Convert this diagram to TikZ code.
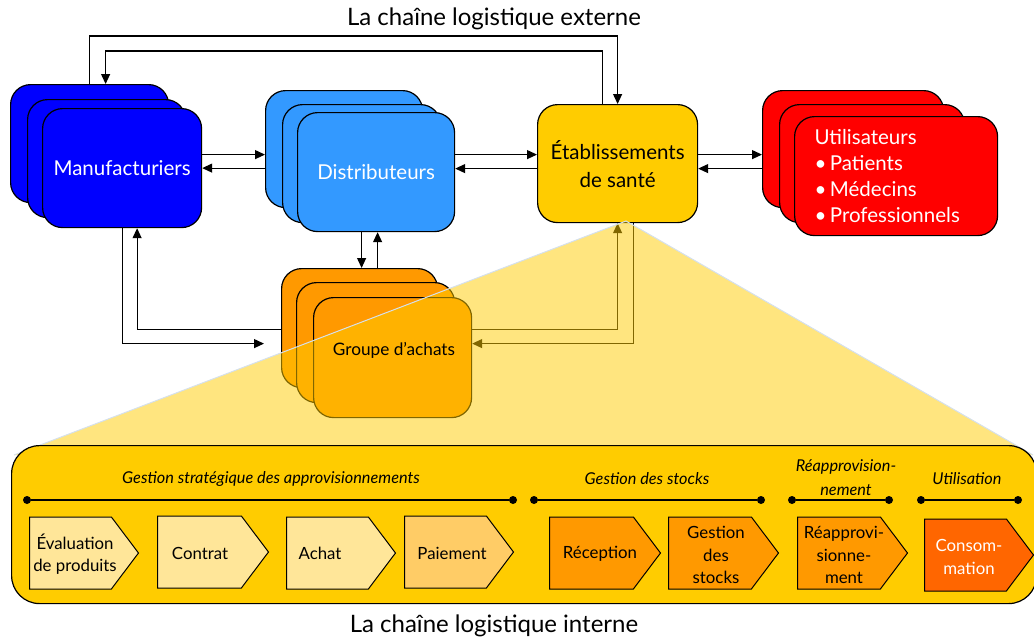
\documentclass[tikz,border=0pt]{standalone}
\usepackage{fontspec}
\setmainfont{Lato}
\usetikzlibrary{arrows.meta,shapes.symbols,calc}
\definecolor{manufblue}{HTML}{0000FF}
\definecolor{distblue}{HTML}{3399FF}
\definecolor{gold}{HTML}{FFCC00}
\definecolor{userred}{HTML}{FF0000}
\definecolor{buyorange}{HTML}{FF9900}
\definecolor{paleyellow}{HTML}{FFE699}
\definecolor{paleorange}{HTML}{FFCC66}
\definecolor{deeporange}{HTML}{FF6600}
\definecolor{fanedge}{HTML}{D5E0EC}

\begin{document}
\begin{tikzpicture}[x=1pt,y=1pt,
  box/.style={draw=black, line width=1.2pt, rounded corners=20pt, anchor=north west, inner sep=0pt},
  arr/.style={line width=1.2pt, -{Triangle[length=10pt,width=9pt]}},
  bigtxt/.style={font=\fontsize{20.5}{28}\selectfont},
  chev/.style={shape=signal, signal to=east, signal pointer angle=106, draw=black, line width=1pt, minimum height=72pt, inner sep=0pt, anchor=west},
  chevtxt/.style={font=\fontsize{16.8}{22.5}\selectfont, align=center},
  sect/.style={font=\fontsize{16.3}{24}\selectfont\itshape, align=center},
  dot/.style={circle, fill=black, inner sep=0pt, minimum size=8pt},
  secline/.style={line width=1.2pt},
]
\useasboundingbox (0,0) rectangle (1034,-643);

% external chain title
\node[font=\fontsize{24}{28}\selectfont] (extTitle) at (494,-19) {La chaîne logistique externe};

% manufacturers (stacked)
\node[box, fill=manufblue, minimum width=158pt, minimum height=118pt] (m3) at (10,-84) {};
\node[box, fill=manufblue, minimum width=158pt, minimum height=118pt] (m2) at (27,-99) {};
\node[box, fill=manufblue, minimum width=159pt, minimum height=119pt, bigtxt, text=white] (m1) at (42,-108) {Manufacturiers};

% distributors (stacked)
\node[box, fill=distblue, minimum width=157pt, minimum height=117pt] (d3) at (265,-90) {};
\node[box, fill=distblue, minimum width=158pt, minimum height=118pt] (d2) at (282,-104) {};
\node[box, fill=distblue, minimum width=157pt, minimum height=119pt, bigtxt, text=white] (d1) at (297,-112) {Distributeurs};

% health facilities
\node[box, fill=gold, minimum width=160pt, minimum height=118pt, bigtxt, align=center] (e) at (537,-104) {Établissements\\de santé};

% users (stacked)
\node[box, fill=userred, minimum width=181pt, minimum height=117pt] (u3) at (762,-90) {};
\node[box, fill=userred, minimum width=185pt, minimum height=118pt] (u2) at (779,-104) {};
\node[box, fill=userred, minimum width=203pt, minimum height=119pt, inner xsep=20pt, text width=163pt, align=left, text=white, font=\fontsize{20.5}{26}\selectfont] (u1) at (794,-116) {Utilisateurs\\•\,Patients\\•\,Médecins\\•\,Professionnels};

% purchasing group (stacked)
\node[box, fill=buyorange, minimum width=156pt, minimum height=119pt] (g3) at (281,-268) {};
\node[box, fill=buyorange, minimum width=158pt, minimum height=120pt] (g2) at (296,-282) {};
\node[box, fill=buyorange, minimum width=158pt, minimum height=120pt] (g1) at (313,-297) {};

% top loop between manufacturers and facilities
\draw[arr] (m3.north) -- ++(0,48) -| (e.north);
\draw[arr] ([xshift=-15pt]e.north) -- ++(0,53) -| ([xshift=16pt]m3.north);

% horizontal exchanges
\draw[arr] ([yshift=13.5pt]m1.east) -- ([yshift=13.5pt]m1.east -| d3.west);
\draw[arr] (d3.west |- m1.east) -- (m1.east);
\draw[arr] ([yshift=9pt]e.west -| d1.east) -- ([yshift=9pt]e.west);
\draw[arr] ([yshift=-5pt]e.west) -- ([yshift=-5pt]e.west -| d1.east);
\draw[arr] ([yshift=9pt]e.east) -- ([yshift=9pt]e.east -| u3.west);
\draw[arr] ([yshift=-5pt]e.east -| u3.west) -- ([yshift=-5pt]e.east);

% distributors <-> purchasing group
\draw[arr] ([xshift=-14.5pt]d1.south) -- ([xshift=-14.5pt]d1.south |- g3.north);
\draw[arr] ([xshift=1.5pt]d1.south |- g3.north) -- ([xshift=1.5pt]d1.south);

% manufacturers <-> purchasing group
\draw[arr] (m1.south) |- ([xshift=-17pt,yshift=-15.5pt]g3.west);
\draw[arr] ([yshift=-1.5pt]g3.west) -| ([xshift=15pt]m1.south);

% facilities <-> purchasing group
\draw[arr] ([yshift=28pt]g1.east) -| (e.south);
\draw[arr] ([xshift=16pt]e.south) |- ([yshift=14pt]g1.east);

% zoom fan from the facilities down to the internal chain
\coordinate (apex) at (626,-221);
\fill[gold, fill opacity=0.5] (apex) -- (14,-455) -- (1033,-455) -- cycle;
\draw[fanedge, line width=1pt] (14,-455) -- (apex) -- (1033,-455);

\node[font=\fontsize{17.2}{20}\selectfont] (gtxt) at (394,-350) {Groupe d’achats};

% internal chain band
\node[box, fill=gold, rounded corners=28pt, minimum width=1025pt, minimum height=158pt] (band) at (11,-445) {};

% section headers
\node[dot] (s1a) at (27,-500) {};
\node[dot] (s1b) at (513,-500) {};
\draw[secline] (s1a) -- (s1b);
\node[sect] (s1) at (271,-479) {Gestion stratégique des approvisionnements};
\node[dot] (s2a) at (534,-500) {};
\node[dot] (s2b) at (761,-500) {};
\draw[secline] (s2a) -- (s2b);
\node[sect] (s2) at (647,-479) {Gestion des stocks};
\node[dot] (s3a) at (792,-500) {};
\node[dot] (s3b) at (889,-500) {};
\draw[secline] (s3a) -- (s3b);
\node[sect] (s3) at (846,-478) {Réapprovision-\\nement};
\node[dot] (s4a) at (921,-500) {};
\node[dot] (s4b) at (1018,-500) {};
\draw[secline] (s4a) -- (s4b);
\node[sect] (s4) at (967,-479) {Utilisation};

% process steps
\node[chev, fill=paleyellow, minimum width=109pt] (c1) at (29,-553) {};
\node[chevtxt] (c1t) at (75,-554) {Évaluation\\de produits};
\node[chev, fill=paleyellow, minimum width=111pt] (c2) at (157,-552) {};
\node[chevtxt] (c2t) at (200,-553) {Contrat};
\node[chev, fill=paleyellow, minimum width=109pt] (c3) at (286,-553) {};
\node[chevtxt] (c3t) at (320,-553) {Achat};
\node[chev, fill=paleorange, minimum width=109pt] (c4) at (404,-552) {};
\node[chevtxt] (c4t) at (452,-553) {Paiement};
\node[chev, fill=buyorange, minimum width=111pt] (c5) at (549,-553) {};
\node[chevtxt] (c5t) at (600,-554) {Réception};
\node[chev, fill=buyorange, minimum width=110pt] (c6) at (668,-553) {};
\node[chevtxt] (c6t) at (716,-555) {Gestion\\des\\stocks};
\node[chev, fill=buyorange, minimum width=110pt] (c7) at (797,-553) {};
\node[chevtxt] (c7t) at (844,-555) {Réapprovi-\\sionne-\\ment};
\node[chev, fill=deeporange, minimum width=109pt] (c8) at (924,-555) {};
\node[chevtxt, text=white] (c8t) at (969,-557) {Consom-\\mation};

% internal chain title
\node[font=\fontsize{24}{28}\selectfont] (intTitle) at (494,-626) {La chaîne logistique interne};
\end{tikzpicture}
\end{document}
